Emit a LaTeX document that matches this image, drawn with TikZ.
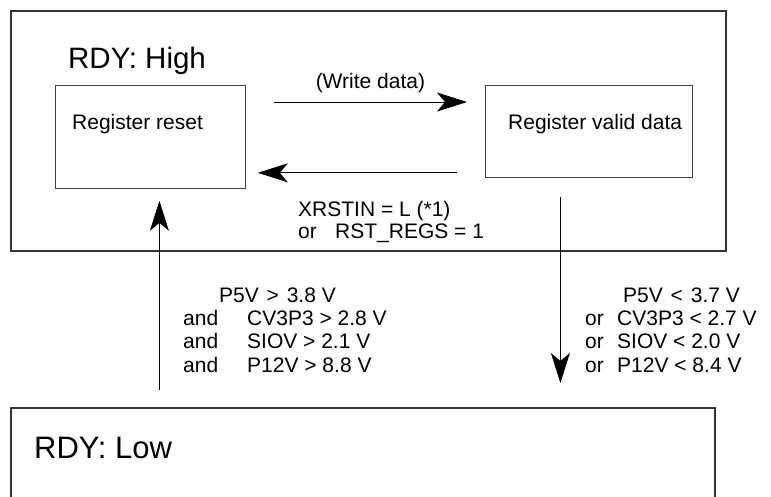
\documentclass[tikz,border=0pt]{standalone}
\usepackage{fontspec}
\setmainfont{Liberation Sans}
\usetikzlibrary{arrows.meta}
\begin{document}
\begin{tikzpicture}[x=1pt,y=-1pt,
  frame/.style={draw=black!80,line width=1.5pt,anchor=north west,inner sep=0pt},
  box/.style={draw=black!75,line width=0.8pt,anchor=north west,inner sep=0pt},
  txt/.style={anchor=base west,inner sep=0pt,font=\fontsize{21}{24}\selectfont},
  title/.style={anchor=base west,inner sep=0pt},
  flow/.style={line width=0.8pt,-{Stealth[length=30pt,width=19pt,inset=8pt]}}]
  \useasboundingbox (0,0) rectangle (771,496);
  \clip (0,0) rectangle (771,496);
  \node[frame,minimum width=715pt,minimum height=240pt] (high) at (10,10) {};
  \node[frame,minimum width=704pt,minimum height=120pt] (low) at (10,407) {};
  \node[box,minimum width=190pt,minimum height=103pt] (reset) at (55,85) {};
  \node[box,minimum width=207pt,minimum height=92pt] (valid) at (485,85) {};
  \node[title,font=\fontsize{29.5}{32}\selectfont] (hightxt) at (68,68) {RDY: High};
  \node[title,font=\fontsize{31}{34}\selectfont] (lowtxt) at (34,458) {RDY: Low};
  \node[txt] (resettxt) at (72,129) {Register reset};
  \node[txt] (validtxt) at (508,129) {Register valid data};
  \draw[flow] ([shift={(28,17)}]reset.north east) -- ([shift={(-18,17)}]valid.north west)
    node[txt,anchor=base,pos=0.5,yshift=14pt] (wd) {(Write data)};
  \draw[flow] ([shift={(-28,-5)}]valid.south west) -- ([shift={(12,-16)}]reset.south east);
  \node[txt] (xrst) at (298,216) {XRSTIN = L (*1)};
  \node[txt] (or0) at (298,238) {or};
  \node[txt] (rstregs) at (335,238) {RST\_REGS = 1};
  \draw[flow] ([shift={(9,-17)}]reset.south |- low.north) -- ([shift={(9,12)}]reset.south);
  \draw[flow] ([shift={(-28.5,19)}]valid.south) -- ([shift={(-28.5,-24)}]valid.south |- low.north);
  \node[txt] (up1) at (219,302) {P5V\hspace{2pt} > \hspace{2pt}3.8 V};
  \node[txt] (and2) at (183,325) {and};
  \node[txt] (up2) at (247,325) {CV3P3 > 2.8 V};
  \node[txt] (and3) at (183,348) {and};
  \node[txt] (up3) at (247,348) {SIOV > 2.1 V};
  \node[txt] (and4) at (183,372) {and};
  \node[txt] (up4) at (247,372) {P12V > 8.8 V};
  \node[txt] (dn1) at (623,302) {P5V\hspace{2pt} < \hspace{2pt}3.7 V};
  \node[txt] (or2) at (585,325) {or};
  \node[txt] (dn2) at (617,325) {CV3P3 < 2.7 V};
  \node[txt] (or3) at (585,348) {or};
  \node[txt] (dn3) at (617,348) {SIOV < 2.0 V};
  \node[txt] (or4) at (585,372) {or};
  \node[txt] (dn4) at (617,372) {P12V < 8.4 V};
\end{tikzpicture}
\end{document}
